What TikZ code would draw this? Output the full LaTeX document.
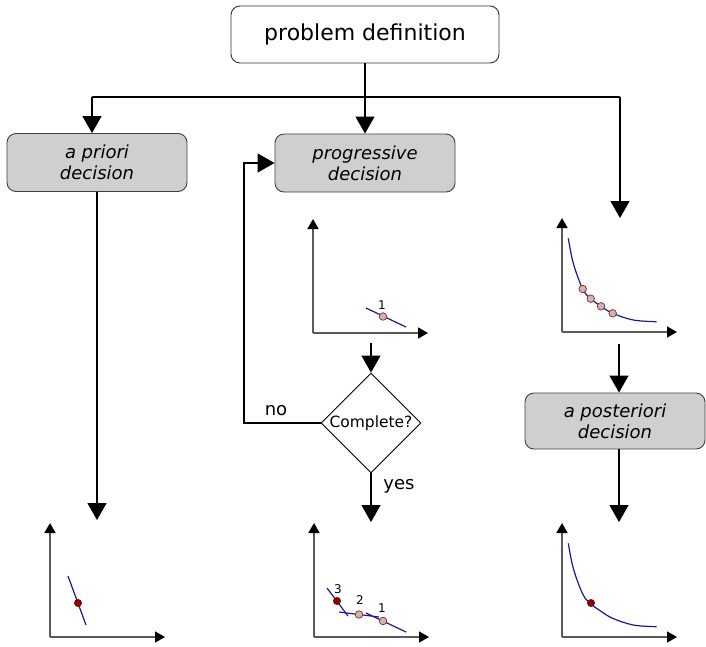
\documentclass[tikz,border=0pt]{standalone}
\usepackage{fontspec}
\setmainfont{DejaVu Sans}
\usetikzlibrary{arrows.meta,shapes.geometric}

\definecolor{boxgray}{HTML}{CFCFCF}
\definecolor{axisgray}{HTML}{5A5A5A}
\definecolor{curveblue}{HTML}{1A1A8C}
\definecolor{ptred}{HTML}{B02828}
\definecolor{ptgray}{HTML}{BDBDBD}
\definecolor{dotred}{HTML}{8B0000}

\begin{document}
\begin{tikzpicture}[x=1pt,y=-1pt,
  link/.style={draw=black, line width=1.2pt},
  flow/.style={link, -{Triangle[width=19pt,length=17pt]}},
  startbox/.style={draw=black!80, line width=0.9pt, rounded corners=9pt, fill=white,
    minimum width=268pt, minimum height=57pt, inner sep=0pt,
    font=\fontsize{22}{26}\selectfont},
  decbox/.style={draw=black!75, line width=0.9pt, rounded corners=9pt, fill=boxgray,
    minimum width=180pt, minimum height=58pt, inner sep=0pt, align=center,
    font=\fontsize{18}{21}\selectfont\itshape},
  test/.style={diamond, draw=black, line width=0.9pt, fill=white, aspect=1,
    minimum width=100pt, minimum height=100pt, inner sep=0pt,
    font=\fontsize{15.5}{18}\selectfont},
  lbl/.style={inner sep=0pt, font=\fontsize{18}{21}\selectfont},
  num/.style={inner sep=0pt, font=\fontsize{12}{14}\selectfont},
  axis/.style={draw=axisgray, line width=1.6pt,
    -{Triangle[width=11pt,length=10pt,color=black]}},
  front/.style={draw=curveblue, line width=1.2pt},
  trial/.style={circle, draw=ptred, fill=ptgray, line width=0.8pt,
    minimum size=7.5pt, inner sep=0pt},
  pick/.style={circle, fill=dotred, minimum size=8pt, inner sep=0pt},
  % objective plane: two axes from the origin of the current scope
  plane/.pic={
    \coordinate (-o) at (0,0);
    \coordinate (-y) at (0,-114);
    \coordinate (-x) at (115,0);
    \draw[axis] (-o) -- (-y);
    \draw[axis] (-o) -- (-x);
  }
]
\useasboundingbox (0,0) rectangle (706,646);

% ---------------- boxes ----------------
\node[startbox] (def) at (365,34.5) {problem definition};
\node[decbox] (prio) at (97,162.5) {a priori\\decision};
\node[decbox] (prog) at (365,163) {progressive\\decision};
\node[decbox, minimum height=56pt] (post) at (615,421) {a posteriori\\decision};
\node[test] (done) at (371,423) {Complete?};

% ---------------- branching from the definition ----------------
\coordinate (split) at (365,97);
\coordinate (lft) at (92,97);
\coordinate (rgt) at (620,97);
\coordinate (postin) at (620,218);
\draw[link] (def.south) -- (split);
\draw[link] (lft) -- (rgt);
\draw[flow] (lft) -- (lft |- prio.north);
\draw[flow] (split) -- (prog.north);
\draw[flow] (rgt) -- (postin);

% ---------------- a priori branch ----------------
\coordinate (prioend) at (97,520);
\draw[flow] (prio.south) -- (prioend);

% ---------------- progressive branch ----------------
\coordinate (progout) at (371,343);
\coordinate (loop) at (244,423);
\coordinate (progend) at (371,522);
\draw[flow] (progout) -- (done.north);
\draw[flow] (done.west) -- (loop) |- (prog.west);
\draw[flow] (done.south) -- (progend);
\node[lbl] (nolbl) at (276,411) {no};
\node[lbl] (yeslbl) at (399,486) {yes};

% ---------------- a posteriori branch ----------------
\coordinate (postout) at (619,344);
\coordinate (postend) at (619,522);
\draw[flow] (postout) -- (postout |- post.north);
\draw[flow] (post.south -| postout) -- (postend);

% ---------------- objective planes ----------------
% progressive: first trial point
\begin{scope}[shift={(313,333)}]
  \pic (pa) {plane};
  \draw[front] (53,-25) -- (93,-6);
  \node[trial] (pa1) at (70,-16.5) {};
  \node[num] (pa1l) at (69,-28) {1};
\end{scope}

% a posteriori: sampled front
\begin{scope}[shift={(562,332)}]
  \pic (pb) {plane};
  \draw[front] plot[smooth, tension=0.6] coordinates
    {(6.3,-93.7) (11.3,-68.7) (20.7,-43) (28.7,-33.3) (39,-25.7) (50.7,-18.7) (71.3,-12) (94.7,-10.3)};
  \node[trial] (pb1) at (20.7,-43) {};
  \node[trial] (pb2) at (28.7,-33.3) {};
  \node[trial] (pb3) at (39,-25.7) {};
  \node[trial] (pb4) at (50.7,-18.7) {};
\end{scope}

% a priori: single solution
\begin{scope}[shift={(50,637)}]
  \pic (pc) {plane};
  \draw[front] (18,-61) -- (36,-12);
  \node[pick] (pc1) at (28,-34) {};
\end{scope}

% progressive: three iterations
\begin{scope}[shift={(314,637)}]
  \pic (pd) {plane};
  \draw[front] (13,-49) -- (34,-21);
  \draw[front] (25,-25) -- (65,-20);
  \draw[front] (52,-24) -- (92,-5);
  \node[pick] (pd3) at (23,-36) {};
  \node[trial] (pd2) at (45,-22.5) {};
  \node[trial] (pd1) at (69,-16) {};
  \node[num] (pd3l) at (24,-48) {3};
  \node[num] (pd2l) at (46,-37) {2};
  \node[num] (pd1l) at (68,-29) {1};
\end{scope}

% a posteriori: chosen point on the front
\begin{scope}[shift={(562,637)}]
  \pic (pe) {plane};
  \draw[front] plot[smooth, tension=0.6] coordinates
    {(6.3,-93.7) (11.3,-68.7) (20.7,-43) (28.7,-33.3) (39,-25.7) (50.7,-18.7) (71.3,-12) (94.7,-10.3)};
  \node[pick] (pe1) at (29,-34) {};
\end{scope}

\end{tikzpicture}
\end{document}
